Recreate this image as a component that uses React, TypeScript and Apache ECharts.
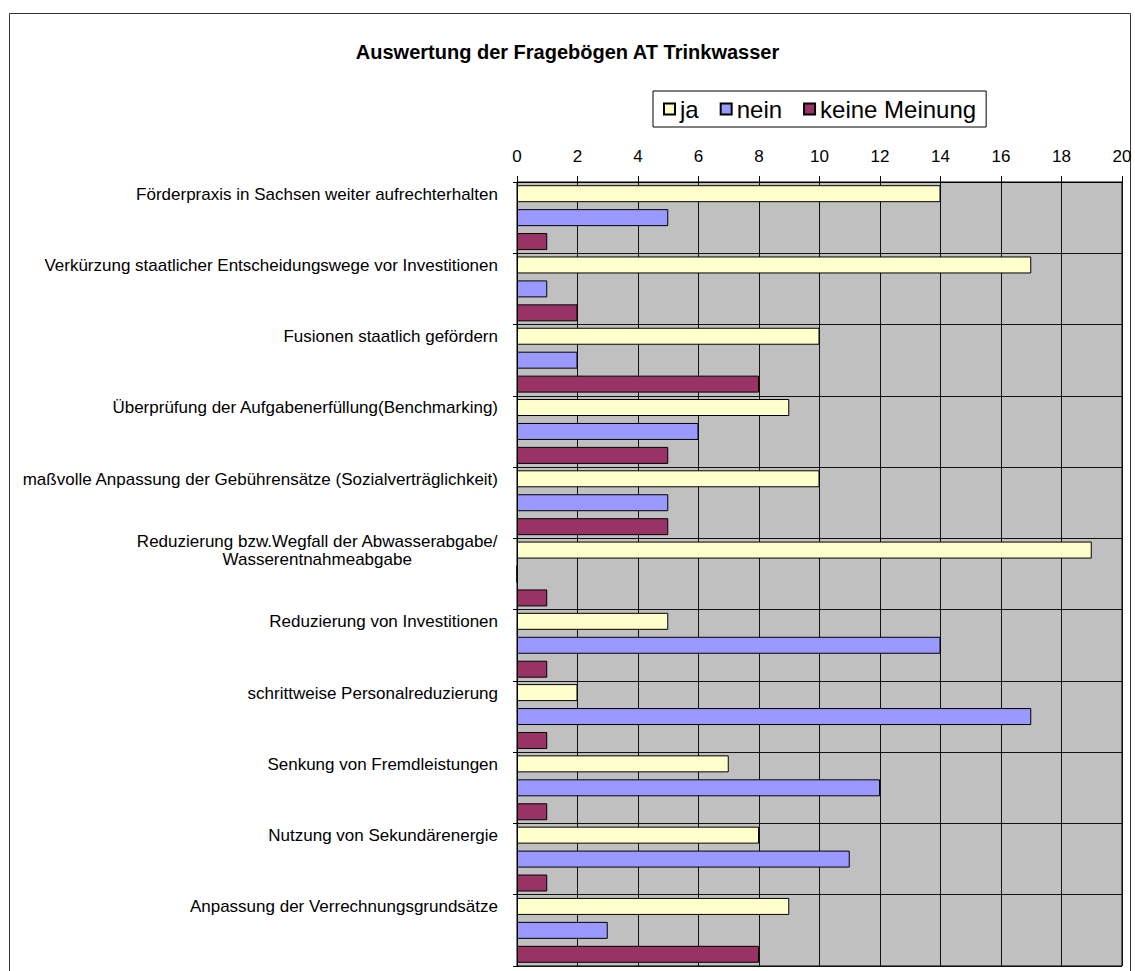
import React, { useEffect, useRef } from "react";
import * as echarts from "echarts";

const titleText = "Auswertung der Fragebögen AT Trinkwasser";

const categories = [
  "Förderpraxis in Sachsen weiter aufrechterhalten",
  "Verkürzung staatlicher Entscheidungswege vor Investitionen",
  "Fusionen staatlich gefördern",
  "Überprüfung der Aufgabenerfüllung(Benchmarking)",
  "maßvolle Anpassung der Gebührensätze (Sozialverträglichkeit)",
  "Reduzierung bzw.Wegfall der Abwasserabgabe/\nWasserentnahmeabgabe",
  "Reduzierung von Investitionen",
  "schrittweise Personalreduzierung",
  "Senkung von Fremdleistungen",
  "Nutzung von Sekundärenergie",
  "Anpassung der Verrechnungsgrundsätze",
];

const seriesNames = ["ja", "nein", "keine Meinung"];
const jaValues = [14, 17, 10, 9, 10, 19, 5, 2, 7, 8, 9];
const neinValues = [5, 1, 2, 6, 5, 0, 14, 17, 12, 11, 3];
const keineValues = [1, 2, 8, 5, 5, 1, 1, 1, 1, 1, 8];

const xMin = 0;
const xMax = 20;
const xStep = 2;

const FONT = "'Liberation Sans', Arial, Helvetica, sans-serif";
const colors = ["#FFFFCC", "#9999FF", "#993366"];

export default function App() {
  const ref = useRef<HTMLDivElement>(null);

  useEffect(() => {
    if (!ref.current) return;
    const chart = echarts.init(ref.current, undefined, { renderer: "svg" });
    const values = [jaValues, neinValues, keineValues];

    const option: any = {
      animation: false,
      backgroundColor: "#ffffff",
      title: {
        text: titleText,
        left: "center",
        top: 42,
        padding: 0,
        textStyle: {
          fontFamily: FONT,
          fontSize: 20,
          fontWeight: "bold",
          color: "#000",
        },
      },
      legend: {
        data: seriesNames,
        left: 653,
        top: 91,
        padding: [6, 10, 6, 10],
        borderColor: "#000",
        borderWidth: 1,
        backgroundColor: "#fff",
        icon: "rect",
        itemWidth: 11,
        itemHeight: 11,
        itemGap: 21,
        textStyle: { fontFamily: FONT, fontSize: 24, color: "#000" },
      },
      graphic: [
        {
          type: "rect",
          z: -10,
          silent: true,
          shape: { x: 9.5, y: 13.5, width: 1121, height: 1000 },
          style: { fill: "none", stroke: "#333", lineWidth: 1 },
        },
      ],
      grid: {
        left: 517,
        right: 13,
        top: 182,
        bottom: 5,
        show: true,
        backgroundColor: "#C0C0C0",
        borderColor: "#000",
        borderWidth: 1,
      },
      xAxis: {
        type: "value",
        position: "top",
        min: xMin,
        max: xMax,
        interval: xStep,
        axisLine: { show: true, lineStyle: { color: "#000", width: 1 } },
        axisTick: { show: true, length: 6, lineStyle: { color: "#000" } },
        axisLabel: {
          margin: 17,
          fontFamily: FONT,
          fontSize: 17,
          color: "#000",
        },
        splitLine: { show: true, lineStyle: { color: "#111", width: 1 } },
      },
      yAxis: {
        type: "category",
        inverse: true,
        data: categories,
        axisLine: { show: true, lineStyle: { color: "#000", width: 1 } },
        axisTick: { show: true, length: 4, lineStyle: { color: "#000" } },
        splitLine: { show: true, lineStyle: { color: "#111", width: 1 } },
        axisLabel: {
          margin: 19,
          fontFamily: FONT,
          fontSize: 17,
          lineHeight: 18,
          color: "#000",
          align: "right",
          padding: [0, 0, 47, 0],
          formatter: (v: string) =>
            v.indexOf("\n") >= 0
              ? v
                  .split("\n")
                  .map((l) => `{c|${l}}`)
                  .join("\n")
              : v,
          rich: {
            c: {
              align: "center",
              fontFamily: FONT,
              fontSize: 17,
              lineHeight: 18,
              color: "#000",
            },
          },
        },
      },
      series: seriesNames.map((name, i) => ({
        name,
        type: "bar",
        data: values[i],
        barGap: "41%",
        barCategoryGap: "9%",
        itemStyle: { color: colors[i], borderColor: "#000", borderWidth: 1 },
      })),
    };

    chart.setOption(option);
    return () => chart.dispose();
  }, []);

  return (
    <div
      ref={ref}
      style={{ position: "fixed", left: 0, top: 0, width: 1135, height: 971 }}
    />
  );
}
